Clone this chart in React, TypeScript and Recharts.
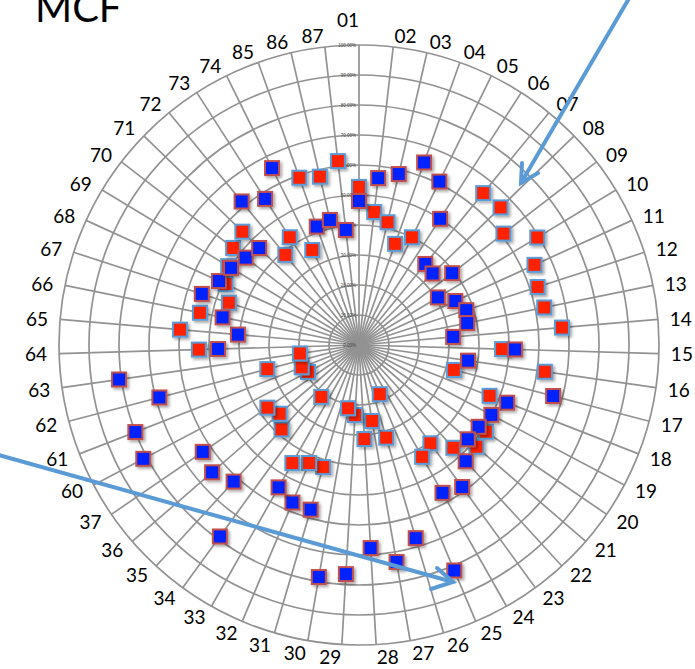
import React from 'react';
import { RadarChart, Radar, PolarGrid, PolarAngleAxis, PolarRadiusAxis } from 'recharts';

const categories = [
  '01', '02', '03', '04', '05', '06', '07', '08', '09', '10',
  '11', '12', '13', '14', '15', '16', '17', '18', '19', '20',
  '21', '22', '23', '24', '25', '26', '27', '28', '29', '30',
  '31', '32', '33', '34', '35', '36', '37', '60', '61', '62',
  '63', '64', '65', '66', '67', '68', '69', '70', '71', '72',
  '73', '74', '85', '86', '87',
];

// red squares (blue border)
const redValues = [
  52.7, 44.6, 42.0, 35.8, 40.0, null, 65.4, 65.8, 60.8, 69.4,
  64.3, 62.6, 63.0, 67.9, 47.7, 62.6, 32.7, 46.7, null, 51.2,
  51.8, 46.5, 40.5, 42.8, 17.8, 32.2, 25.7, 31.4, 23.4, 21.4,
  42.4, 42.7, 45.2, 21.4, 38.2, 35.0, 37.0, 19.2, 20.5, 31.6,
  19.9, 53.4, 59.9, 54.1, 45.6, 48.9, 50.9, 53.0, 54.2, 38.8,
  42.7, 35.3, 59.2, 57.6, 61.7,
];

// blue squares (red border)
const blueValues = [
  48.0, 56.0, 58.5, 64.6, 60.7, 50.0, 34.9, 34.2, 39.2, 30.7,
  35.3, 37.6, 36.8, 31.5, 52.0, 36.7, 66.9, 53.0, 49.9, 48.3,
  48.0, 52.6, 58.5, 56.6, 81.6, 67.1, 73.4, 67.8, 76.5, 78.5,
  57.2, 57.0, 54.5, 78.9, 61.8, 64.8, 63.1, 81.3, 80.0, 68.8,
  80.8, 47.0, 40.5, 46.4, 55.1, 51.3, 49.8, 47.7, 46.4, 61.8,
  57.9, 65.7, 41.9, 42.8, 38.6,
];

const radiusTicks = [0, 10, 20, 30, 40, 50, 60, 70, 80, 90, 100];

const data = categories.map((cat, i) => ({ cat, red: redValues[i], blue: blueValues[i] }));

const W = 695;
const H = 669;
const CX = 359;
const CY = 345;
const OUTER = 300;
const LABEL_FONT = 'Lato, "Open Sans", sans-serif';
const ARROW = '#5b9bd5';

const AngleTick = (props: any) => {
  const ang = (props.payload.coordinate * Math.PI) / 180;
  const ux = Math.cos(ang);
  const uy = -Math.sin(ang);
  const r = OUTER + 12;
  const x = CX + r * ux;
  let y = CY + r * uy;
  if (Math.abs(ux) < 0.01 && uy < 0) y -= 14;
  return (
    <text
      x={x}
      y={y}
      textAnchor={ux > 0.01 ? 'start' : 'end'}
      dominantBaseline="central"
      fontSize={19}
      fontFamily={LABEL_FONT}
      fill="#000"
    >
      {props.payload.value}
    </text>
  );
};

const RadiusTick = (props: any) => (
  <text
    x={props.x - 3}
    y={props.y}
    textAnchor="end"
    dominantBaseline="central"
    fontSize={4.5}
    fontFamily="Arial, sans-serif"
    fill="#444"
  >
    {`${props.payload.value},00%`}
  </text>
);

const squareDot = (fill: string, stroke: string) => (props: any) => {
  const { cx, cy, index, dataKey } = props;
  const pt = props.payload ?? {};
  const v = pt.value !== undefined ? pt.value : pt[dataKey];
  if (v == null || !Number.isFinite(cx) || !Number.isFinite(cy)) {
    return <g key={`empty-${dataKey}-${index}`} />;
  }
  return (
    <rect
      key={`sq-${dataKey}-${index}`}
      x={cx - 7}
      y={cy - 7}
      width={14}
      height={14}
      fill={fill}
      stroke={stroke}
      strokeWidth={2}
      filter="url(#sqShadow)"
    />
  );
};

export default function App() {
  return (
    <div style={{ position: 'absolute', left: 0, top: 0, width: W, height: H, background: '#fff', overflow: 'hidden' }}>
      <RadarChart
        width={W}
        height={H}
        data={data}
        cx={CX}
        cy={CY}
        outerRadius={OUTER}
        margin={{ top: 0, right: 0, bottom: 0, left: 0 }}
      >
        <defs>
          <filter id="sqShadow" x="-50%" y="-50%" width="200%" height="200%">
            <feDropShadow dx="2" dy="2" stdDeviation="1.5" floodColor="#000" floodOpacity="0.35" />
          </filter>
        </defs>
        <PolarGrid gridType="circle" stroke="#929292" strokeWidth={1.7} />
        <PolarAngleAxis dataKey="cat" tick={AngleTick} tickLine={false} axisLine={false} />
        <PolarRadiusAxis
          angle={90}
          domain={[0, 100]}
          ticks={radiusTicks}
          tickCount={11}
          tick={RadiusTick}
          axisLine={false}
          tickLine={false}
        />
        <Radar
          name="red"
          dataKey="red"
          stroke="none"
          fill="none"
          fillOpacity={0}
          dot={squareDot('#ff2200', '#5b9bd5')}
          activeDot={false}
          isAnimationActive={false}
        />
        <Radar
          name="blue"
          dataKey="blue"
          stroke="none"
          fill="none"
          fillOpacity={0}
          dot={squareDot('#0022ff', '#c0504d')}
          activeDot={false}
          isAnimationActive={false}
        />
      </RadarChart>
      <svg
        width={W}
        height={H}
        style={{ position: 'absolute', left: 0, top: 0, pointerEvents: 'none' }}
      >
        <text x={35} y={22} fontSize={40} fontFamily={LABEL_FONT} fill="#000">
          MCF
        </text>
        <g stroke={ARROW} strokeWidth={4} strokeLinecap="round" fill="none">
          <line x1={631} y1={-5} x2={521} y2={183} />
          <polyline points="522,163 521,183 538,173" />
          <line x1={-5} y1={454} x2={453} y2={582} />
          <polyline points="437,568 453,582 431,589" />
        </g>
      </svg>
    </div>
  );
}
